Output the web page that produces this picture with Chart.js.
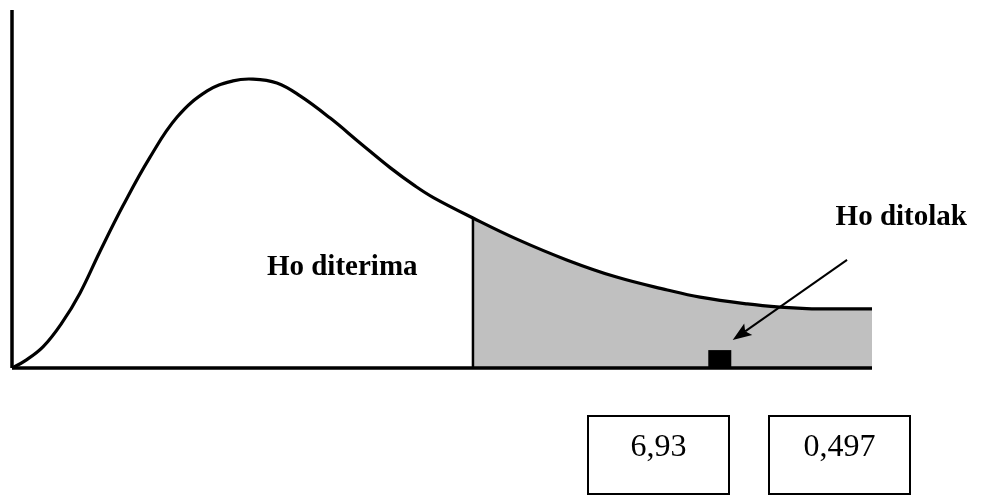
<!DOCTYPE html>
<html>
<head>
<meta charset="utf-8">
<script src="https://cdn.jsdelivr.net/npm/chart.js@4"></script>
<style>
  html, body { margin: 0; padding: 0; background: #fff; }
  #wrap { position: relative; width: 982px; height: 497px; overflow: hidden; }
  canvas { position: absolute; left: 0; top: 0; }
  .box { position: absolute; top: 415px; width: 143px; height: 80px; box-sizing: border-box;
         border: 2px solid #000; font-family: "Liberation Serif", "Times New Roman", serif;
         font-size: 32px; text-align: center; line-height: 32px; padding-top: 12px; color: #000; }
</style>
</head>
<body>
<div id="wrap">
  <canvas id="c" width="982" height="497"></canvas>
  <div class="box" id="b1" style="left:587px;"></div>
  <div class="box" id="b2" style="left:768px;"></div>
</div>
<script>
// Curve (density), x in arbitrary units 0..10, y 0..1
const curveX = [0, 0.15, 0.36, 0.58, 0.79, 1.02, 1.29, 1.60, 1.92, 2.27, 2.57, 2.80, 3.08, 3.35, 3.70, 4.05, 4.40, 4.69, 4.90, 5.36, 5.87, 6.45, 7.03, 7.62, 8.00, 8.55, 8.93, 9.24, 9.63, 10];
const curveY = [0, 0.020, 0.059, 0.126, 0.209, 0.324, 0.453, 0.587, 0.701, 0.774, 0.802, 0.807, 0.796, 0.760, 0.698, 0.628, 0.559, 0.508, 0.476, 0.419, 0.360, 0.302, 0.254, 0.218, 0.198, 0.179, 0.170, 0.166, 0.165, 0.165];
const criticalX = 5.36;
const criticalY = 0.419;
const xMax = 10;
const yMax = 1;
const markerX = 8.23;       // black square position
const markerH = 0.05;
const arrowFrom = [9.71, 0.302];
const arrowTo = [8.38, 0.078];
const acceptLabel = "Ho diterima";
const acceptPos = [3.84, 0.26];
const rejectLabel = "Ho ditolak";
const rejectPos = [10.34, 0.40];
const boxValues = ["6,93", "0,497"];

document.getElementById('b1').textContent = boxValues[0];
document.getElementById('b2').textContent = boxValues[1];

const curve = curveX.map((x, i) => ({x, y: curveY[i]}));
const tail = curve.filter(p => p.x >= criticalX);

const overlay = {
  id: 'overlay',
  afterDatasetsDraw(chart) {
    const ctx = chart.ctx, xs = chart.scales.x, ys = chart.scales.y;
    ctx.save();
    // black square marker
    const mx = xs.getPixelForValue(markerX), my0 = ys.getPixelForValue(0), my1 = ys.getPixelForValue(markerH);
    ctx.fillStyle = '#000';
    ctx.fillRect(mx - 11.5, my1, 23, my0 - my1);
    // arrow
    const ax0 = xs.getPixelForValue(arrowFrom[0]), ay0 = ys.getPixelForValue(arrowFrom[1]);
    const ax1 = xs.getPixelForValue(arrowTo[0]), ay1 = ys.getPixelForValue(arrowTo[1]);
    const ang = Math.atan2(ay1 - ay0, ax1 - ax0);
    const hl = 19, hw = 7;
    ctx.strokeStyle = '#000'; ctx.lineWidth = 2;
    ctx.beginPath(); ctx.moveTo(ax0, ay0);
    ctx.lineTo(ax1 - Math.cos(ang) * hl * 0.8, ay1 - Math.sin(ang) * hl * 0.8); ctx.stroke();
    ctx.beginPath();
    ctx.moveTo(ax1, ay1);
    ctx.lineTo(ax1 - Math.cos(ang) * hl + Math.sin(ang) * hw, ay1 - Math.sin(ang) * hl - Math.cos(ang) * hw);
    ctx.lineTo(ax1 - Math.cos(ang) * hl * 0.8, ay1 - Math.sin(ang) * hl * 0.8);
    ctx.lineTo(ax1 - Math.cos(ang) * hl - Math.sin(ang) * hw, ay1 - Math.sin(ang) * hl + Math.cos(ang) * hw);
    ctx.closePath(); ctx.fill();
    // labels
    ctx.font = 'bold 29px "Liberation Serif", "Times New Roman", serif';
    ctx.textAlign = 'center'; ctx.textBaseline = 'alphabetic';
    ctx.fillText(acceptLabel, xs.getPixelForValue(acceptPos[0]), ys.getPixelForValue(acceptPos[1]));
    ctx.fillText(rejectLabel, xs.getPixelForValue(rejectPos[0]), ys.getPixelForValue(rejectPos[1]));
    ctx.restore();
  }
};

new Chart(document.getElementById('c'), {
  type: 'line',
  data: {
    datasets: [
      { data: tail, fill: 'origin', backgroundColor: '#c0c0c0', borderWidth: 0, pointRadius: 0, tension: 0.4, order: 5 },
      { data: curve, fill: false, borderColor: '#000', borderWidth: 3.2, pointRadius: 0, tension: 0.4, order: 1 },
      { data: [{x: criticalX, y: 0}, {x: criticalX, y: criticalY}], borderColor: '#000', borderWidth: 2.5, pointRadius: 0, order: 2 },
      { data: [{x: 0, y: 0}, {x: 0, y: yMax}], borderColor: '#000', borderWidth: 3.5, pointRadius: 0, order: 0 },
      { data: [{x: 0, y: 0}, {x: xMax, y: 0}], borderColor: '#000', borderWidth: 3.5, pointRadius: 0, order: 0 }
    ]
  },
  options: {
    responsive: false,
    animation: false,
    events: [],
    layout: { padding: { left: 12, right: 110, top: 10, bottom: 129 } },
    plugins: { legend: { display: false }, tooltip: { enabled: false } },
    scales: {
      x: { type: 'linear', min: 0, max: xMax, display: false },
      y: { type: 'linear', min: 0, max: yMax, display: false }
    },
    elements: { line: { borderCapStyle: 'butt', borderJoinStyle: 'round' } },
    clip: false
  },
  plugins: [overlay]
});
</script>
</body>
</html>
